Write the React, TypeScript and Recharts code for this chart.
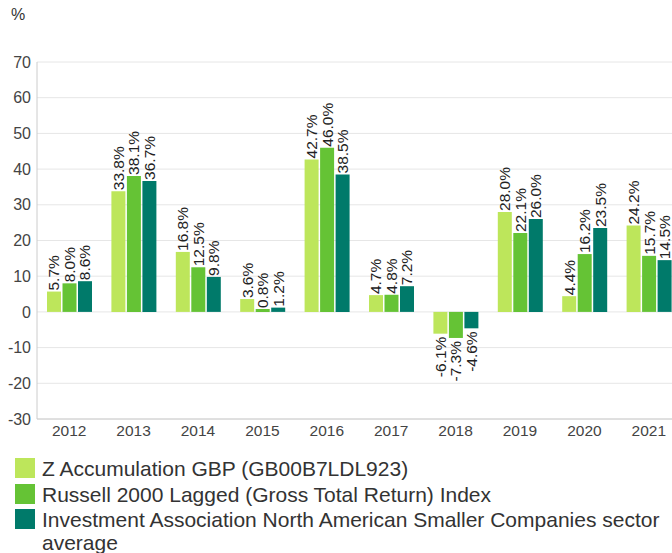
import React from "react";
import { Bar, BarChart, CartesianGrid, LabelList, XAxis, YAxis } from "recharts";

const years = ["2012", "2013", "2014", "2015", "2016", "2017", "2018", "2019", "2020", "2021"];
const fundReturns = [5.7, 33.8, 16.8, 3.6, 42.7, 4.7, -6.1, 28.0, 4.4, 24.2];
const indexReturns = [8.0, 38.1, 12.5, 0.8, 46.0, 4.8, -7.3, 22.1, 16.2, 15.7];
const sectorReturns = [8.6, 36.7, 9.8, 1.2, 38.5, 7.2, -4.6, 26.0, 23.5, 14.5];
const yTicks = [-30, -20, -10, 0, 10, 20, 30, 40, 50, 60, 70];

const seriesNames = [
  "Z Accumulation GBP (GB00B7LDL923)",
  "Russell 2000 Lagged (Gross Total Return) Index",
  "Investment Association North American Smaller Companies sector average",
];
const seriesColors = ["#bde65b", "#65c335", "#007a6a"];
const seriesKeys = ["fund", "index", "sector"];

const data = years.map((year, i) => ({
  year,
  fund: fundReturns[i],
  index: indexReturns[i],
  sector: sectorReturns[i],
}));

const FONT = '"Liberation Sans", Arial, sans-serif';

// rotated value label, above positive bars and below negative ones
const renderValue = (props: any) => {
  const { x, y, width, height, value } = props;
  if (value == null) return null;
  const cx = Number(x) + Number(width) / 2;
  const top = Math.min(Number(y), Number(y) + Number(height));
  const bottom = Math.max(Number(y), Number(y) + Number(height));
  const neg = Number(value) < 0;
  const ay = neg ? bottom + 3 : top - 1;
  return (
    <text
      x={cx}
      y={ay}
      transform={`rotate(-90 ${cx} ${ay})`}
      textAnchor={neg ? "end" : "start"}
      dominantBaseline="central"
      fontSize={15.5}
      fontFamily={FONT}
      fill="#222"
    >
      {Number(value).toFixed(1)}%
    </text>
  );
};

export default function App() {
  return (
    <div
      style={{
        position: "absolute",
        left: 0,
        top: 0,
        width: 672,
        height: 553,
        overflow: "hidden",
        background: "#fff",
        fontFamily: FONT,
      }}
    >
      <div style={{ position: "absolute", left: 11, top: 6, fontSize: 16, color: "#333" }}>%</div>
      <BarChart
        width={694}
        height={450}
        data={data}
        margin={{ top: 62, right: 13, left: 0, bottom: 0 }}
        barSize={14}
        barGap={1.5}
      >
        <CartesianGrid vertical={false} stroke="#e6e6e6" />
        <XAxis
          dataKey="year"
          height={31}
          tickLine={false}
          tickSize={0}
          tickMargin={6}
          axisLine={{ stroke: "#ccc" }}
          tick={{ fill: "#444", fontSize: 15.5, fontFamily: FONT }}
        />
        <YAxis
          width={37}
          domain={[-30, 70]}
          ticks={yTicks}
          interval={0}
          tickLine={false}
          tickSize={0}
          tickMargin={6}
          axisLine={{ stroke: "#ccc" }}
          tick={{ fill: "#444", fontSize: 16, fontFamily: FONT }}
        />
        {seriesKeys.map((key, i) => (
          <Bar key={key} dataKey={key} fill={seriesColors[i]} isAnimationActive={false}>
            <LabelList dataKey={key} content={renderValue} />
          </Bar>
        ))}
      </BarChart>
      <div style={{ position: "absolute", left: 15, top: 458, width: 657, fontSize: 21, color: "#333" }}>
        {seriesNames.map((name, i) => (
          <div key={name} style={{ display: "flex", alignItems: "flex-start", marginBottom: 3 }}>
            <div style={{ width: 20, height: 20, flex: "0 0 20px", background: seriesColors[i] }} />
            <div style={{ marginLeft: 7, lineHeight: "22.5px" }}>{name}</div>
          </div>
        ))}
      </div>
    </div>
  );
}
